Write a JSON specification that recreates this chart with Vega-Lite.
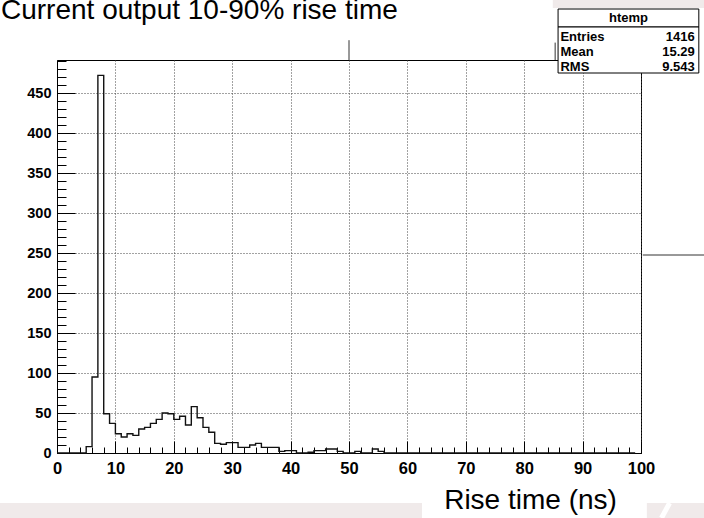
{
  "$schema": "https://vega.github.io/schema/vega-lite/v6.json",
  "width": 584,
  "height": 393,
  "autosize": {"type": "none"},
  "padding": {"left": 57, "top": 60, "right": 63, "bottom": 65},
  "background": "white",
  "config": {
    "font": "Liberation Sans",
    "view": {"stroke": "#000", "strokeWidth": 1}
  },
  "title": {
    "text": "Current output 10-90% rise time",
    "anchor": "start",
    "frame": "group",
    "font": "Liberation Sans",
    "fontSize": 28,
    "fontWeight": "normal",
    "color": "#000",
    "baseline": "alphabetic",
    "offset": -46.5,
    "dx": -56
  },
  "datasets": {
    "bins": [
      {"lo": 0, "n": 0}, {"lo": 1, "n": 0}, {"lo": 2, "n": 0}, {"lo": 3, "n": 0}, {"lo": 4, "n": 0},
      {"lo": 5, "n": 8}, {"lo": 6, "n": 95}, {"lo": 7, "n": 472}, {"lo": 8, "n": 49}, {"lo": 9, "n": 37},
      {"lo": 10, "n": 24}, {"lo": 11, "n": 20}, {"lo": 12, "n": 24}, {"lo": 13, "n": 22}, {"lo": 14, "n": 30},
      {"lo": 15, "n": 32}, {"lo": 16, "n": 37}, {"lo": 17, "n": 42}, {"lo": 18, "n": 50}, {"lo": 19, "n": 49},
      {"lo": 20, "n": 42}, {"lo": 21, "n": 46}, {"lo": 22, "n": 35}, {"lo": 23, "n": 58}, {"lo": 24, "n": 44},
      {"lo": 25, "n": 32}, {"lo": 26, "n": 26}, {"lo": 27, "n": 12}, {"lo": 28, "n": 11}, {"lo": 29, "n": 13},
      {"lo": 30, "n": 13}, {"lo": 31, "n": 7}, {"lo": 32, "n": 7}, {"lo": 33, "n": 10}, {"lo": 34, "n": 12},
      {"lo": 35, "n": 7}, {"lo": 36, "n": 7}, {"lo": 37, "n": 7}, {"lo": 38, "n": 2}, {"lo": 39, "n": 3},
      {"lo": 40, "n": 3}, {"lo": 41, "n": 0}, {"lo": 42, "n": 0}, {"lo": 43, "n": 1}, {"lo": 44, "n": 3},
      {"lo": 45, "n": 3}, {"lo": 46, "n": 5}, {"lo": 47, "n": 5}, {"lo": 48, "n": 2}, {"lo": 49, "n": 0},
      {"lo": 50, "n": 0}, {"lo": 51, "n": 2}, {"lo": 52, "n": 0}, {"lo": 53, "n": 0}, {"lo": 54, "n": 5},
      {"lo": 55, "n": 2}, {"lo": 56, "n": 0}, {"lo": 57, "n": 0}, {"lo": 58, "n": 0}, {"lo": 59, "n": 0},
      {"lo": 60, "n": 0}, {"lo": 61, "n": 0}, {"lo": 62, "n": 0}, {"lo": 63, "n": 0}, {"lo": 64, "n": 0},
      {"lo": 65, "n": 0}, {"lo": 66, "n": 0}, {"lo": 67, "n": 0}, {"lo": 68, "n": 0}, {"lo": 69, "n": 0},
      {"lo": 70, "n": 0}, {"lo": 71, "n": 0}, {"lo": 72, "n": 0}, {"lo": 73, "n": 0}, {"lo": 74, "n": 0},
      {"lo": 75, "n": 0}, {"lo": 76, "n": 0}, {"lo": 77, "n": 0}, {"lo": 78, "n": 0}, {"lo": 79, "n": 0},
      {"lo": 80, "n": 0}, {"lo": 81, "n": 0}, {"lo": 82, "n": 0}, {"lo": 83, "n": 0}, {"lo": 84, "n": 0},
      {"lo": 85, "n": 0}, {"lo": 86, "n": 0}, {"lo": 87, "n": 0}, {"lo": 88, "n": 0}, {"lo": 89, "n": 0},
      {"lo": 90, "n": 0}, {"lo": 91, "n": 0}, {"lo": 92, "n": 0}, {"lo": 93, "n": 0}, {"lo": 94, "n": 0},
      {"lo": 95, "n": 0}, {"lo": 96, "n": 0}, {"lo": 97, "n": 0}, {"lo": 98, "n": 0}, {"lo": 99, "n": 0}
    ],
    "stats": [
      {"stat": "Entries", "value": "1416"},
      {"stat": "Mean", "value": "15.29"},
      {"stat": "RMS", "value": "9.543"}
    ],
    "header": [{"name": "htemp"}]
  },
  "layer": [
    {
      "data": {"name": "bins"},
      "layer": [
        {
          "data": {"values": [{}]},
          "mark": {"type": "rect", "fill": "#f0eaea"},
          "encoding": {
            "x": {"datum": -9.8, "type": "quantitative", "axis": null},
            "x2": {"datum": 62.5},
            "y": {"datum": -62.5, "type": "quantitative", "axis": null},
            "y2": {"datum": -81.3}
          }
        },
        {
          "data": {"values": [{}]},
          "mark": {"type": "rect", "fill": "#f0eaea"},
          "encoding": {
            "x": {"datum": 101, "type": "quantitative", "axis": null},
            "x2": {"datum": 110.8},
            "y": {"datum": -62.5, "type": "quantitative", "axis": null},
            "y2": {"datum": -81.3}
          }
        },
        {
          "data": {"values": [{}]},
          "mark": {"type": "rule", "color": "#ffffff", "strokeWidth": 5},
          "encoding": {
            "x": {"datum": 104.9, "type": "quantitative", "axis": null},
            "x2": {"datum": 103.5},
            "y": {"datum": -62.5, "type": "quantitative", "axis": null},
            "y2": {"datum": -81.3}
          }
        },
        {
          "data": {"values": [{}]},
          "mark": {"type": "rect", "fill": "#f0eaea"},
          "encoding": {
            "x": {"datum": 84.9, "type": "quantitative", "axis": null},
            "x2": {"datum": 110.8},
            "y": {"datum": 566.25, "type": "quantitative", "axis": null},
            "y2": {"datum": 556.25}
          }
        },
        {
          "mark": {"type": "line", "interpolate": "step-after", "color": "#111", "strokeWidth": 1.4},
          "encoding": {
            "x": {
              "field": "lo", "type": "quantitative",
              "scale": {"domain": [0, 100], "nice": false, "zero": false},
              "axis": {
                "orient": "bottom",
                "values": [0, 10, 20, 30, 40, 50, 60, 70, 80, 90, 100],
                "tickSize": -12, "tickColor": "#000", "tickWidth": 1,
                "domain": true, "domainColor": "#000",
                "labelFont": "Liberation Sans", "labelFontWeight": "bold", "labelFontSize": 16.5,
                "labelColor": "#000", "labelPadding": 19, "labelFlush": false, "labelOverlap": false,
                "grid": true, "gridColor": "#444", "gridDash": [1, 2], "gridWidth": 1,
                "title": "Rise time (ns)", "titleFont": "Liberation Sans", "titleFontSize": 28,
                "titleFontWeight": "normal", "titleColor": "#000",
                "titleAlign": "center", "titleBaseline": "alphabetic", "titleX": 473, "titleY": 55
              }
            },
            "y": {
              "field": "n", "type": "quantitative",
              "scale": {"domain": [0, 491.25], "nice": false},
              "axis": {
                "orient": "left",
                "values": [0, 50, 100, 150, 200, 250, 300, 350, 400, 450],
                "tickSize": -18, "tickColor": "#000", "tickWidth": 1,
                "domain": true, "domainColor": "#000",
                "labelFont": "Liberation Sans", "labelFontWeight": "bold", "labelFontSize": 14.5,
                "labelColor": "#000", "labelPadding": 24, "labelFlush": false, "labelOverlap": false,
                "grid": true, "gridColor": "#444", "gridDash": [1, 2], "gridWidth": 1,
                "title": null
              }
            }
          }
        },
        {
          "mark": {"type": "line", "interpolate": "step-after", "strokeOpacity": 0},
          "encoding": {
            "x": {
              "field": "lo", "type": "quantitative",
              "axis": {
                "orient": "bottom",
                "values": [0, 2, 4, 6, 8, 10, 12, 14, 16, 18, 20, 22, 24, 26, 28, 30, 32, 34, 36, 38, 40, 42, 44, 46, 48, 50, 52, 54, 56, 58, 60, 62, 64, 66, 68, 70, 72, 74, 76, 78, 80, 82, 84, 86, 88, 90, 92, 94, 96, 98, 100],
                "tickSize": -6, "tickColor": "#000", "tickWidth": 1,
                "domain": false, "labels": false, "grid": false, "title": null
              }
            },
            "y": {
              "field": "n", "type": "quantitative",
              "axis": {
                "orient": "left",
                "values": [0, 10, 20, 30, 40, 50, 60, 70, 80, 90, 100, 110, 120, 130, 140, 150, 160, 170, 180, 190, 200, 210, 220, 230, 240, 250, 260, 270, 280, 290, 300, 310, 320, 330, 340, 350, 360, 370, 380, 390, 400, 410, 420, 430, 440, 450, 460, 470, 480, 490],
                "tickSize": -9, "tickColor": "#000", "tickWidth": 1,
                "domain": false, "labels": false, "grid": false, "title": null
              }
            }
          }
        },
        {
          "data": {"values": [{}]},
          "mark": {"type": "rule", "color": "#333", "strokeWidth": 1},
          "encoding": {
            "x": {"datum": 50, "type": "quantitative", "axis": null},
            "y": {"datum": 491.25, "type": "quantitative", "axis": null},
            "y2": {"datum": 516}
          }
        },
        {
          "data": {"values": [{}]},
          "mark": {"type": "rule", "color": "#333", "strokeWidth": 1},
          "encoding": {
            "x": {"datum": 85.3, "type": "quantitative", "axis": null},
            "y": {"datum": 491.25, "type": "quantitative", "axis": null},
            "y2": {"datum": 513}
          }
        },
        {
          "data": {"values": [{}]},
          "mark": {"type": "rule", "color": "#333", "strokeWidth": 1},
          "encoding": {
            "x": {"datum": 100.3, "type": "quantitative", "axis": null},
            "x2": {"datum": 110.8},
            "y": {"datum": 247.5, "type": "quantitative", "axis": null}
          }
        }
      ],
      "resolve": {"axis": {"x": "independent", "y": "independent"}}
    },
    {
      "layer": [
        {
          "data": {"name": "header"},
          "layer": [
            {
              "mark": {"type": "rect", "fill": "white", "stroke": "#000", "strokeWidth": 1},
              "encoding": {
                "x": {"datum": 85.8, "type": "quantitative", "scale": {"domain": [0, 100], "nice": false, "zero": false}, "axis": null},
                "x2": {"datum": 109.9},
                "y": {"field": "name", "type": "nominal",
                      "scale": {"type": "band", "domain": ["htemp"], "range": [-51, -33], "paddingInner": 0, "paddingOuter": 0},
                      "axis": null}
              }
            },
            {
              "mark": {"type": "text", "font": "Liberation Sans", "fontWeight": "bold", "fontSize": 13, "align": "center", "baseline": "middle", "color": "#000"},
              "encoding": {
                "x": {"datum": 97.85, "type": "quantitative", "axis": null},
                "y": {"field": "name", "type": "nominal", "axis": null},
                "text": {"field": "name"}
              }
            }
          ]
        },
        {
          "layer": [
            {
              "data": {"name": "header"},
              "mark": {"type": "rect", "fill": "white", "stroke": "#000", "strokeWidth": 1},
              "encoding": {
                "x": {"datum": 85.8, "type": "quantitative", "axis": null},
                "x2": {"datum": 109.9},
                "y": {"datum": "Entries", "type": "nominal", "bandPosition": 0,
                      "scale": {"type": "band", "domain": ["Entries", "Mean", "RMS"], "range": [-33, 13], "paddingInner": 0, "paddingOuter": 0},
                      "axis": null},
                "y2": {"datum": "RMS", "bandPosition": 1}
              }
            },
            {
              "data": {"name": "stats"},
              "mark": {"type": "text", "font": "Liberation Sans", "fontWeight": "bold", "fontSize": 13, "align": "left", "baseline": "middle", "dy": 2, "color": "#000"},
              "encoding": {
                "x": {"datum": 86.2, "type": "quantitative", "axis": null},
                "y": {"field": "stat", "type": "nominal", "axis": null},
                "text": {"field": "stat"}
              }
            },
            {
              "data": {"name": "stats"},
              "mark": {"type": "text", "font": "Liberation Sans", "fontWeight": "bold", "fontSize": 13, "align": "right", "baseline": "middle", "dy": 2, "color": "#000"},
              "encoding": {
                "x": {"datum": 109.2, "type": "quantitative", "axis": null},
                "y": {"field": "stat", "type": "nominal", "axis": null},
                "text": {"field": "value"}
              }
            }
          ]
        }
      ],
      "resolve": {"scale": {"y": "independent"}}
    }
  ],
  "resolve": {
    "scale": {"y": "independent"},
    "axis": {"x": "independent", "y": "independent"}
  }
}
